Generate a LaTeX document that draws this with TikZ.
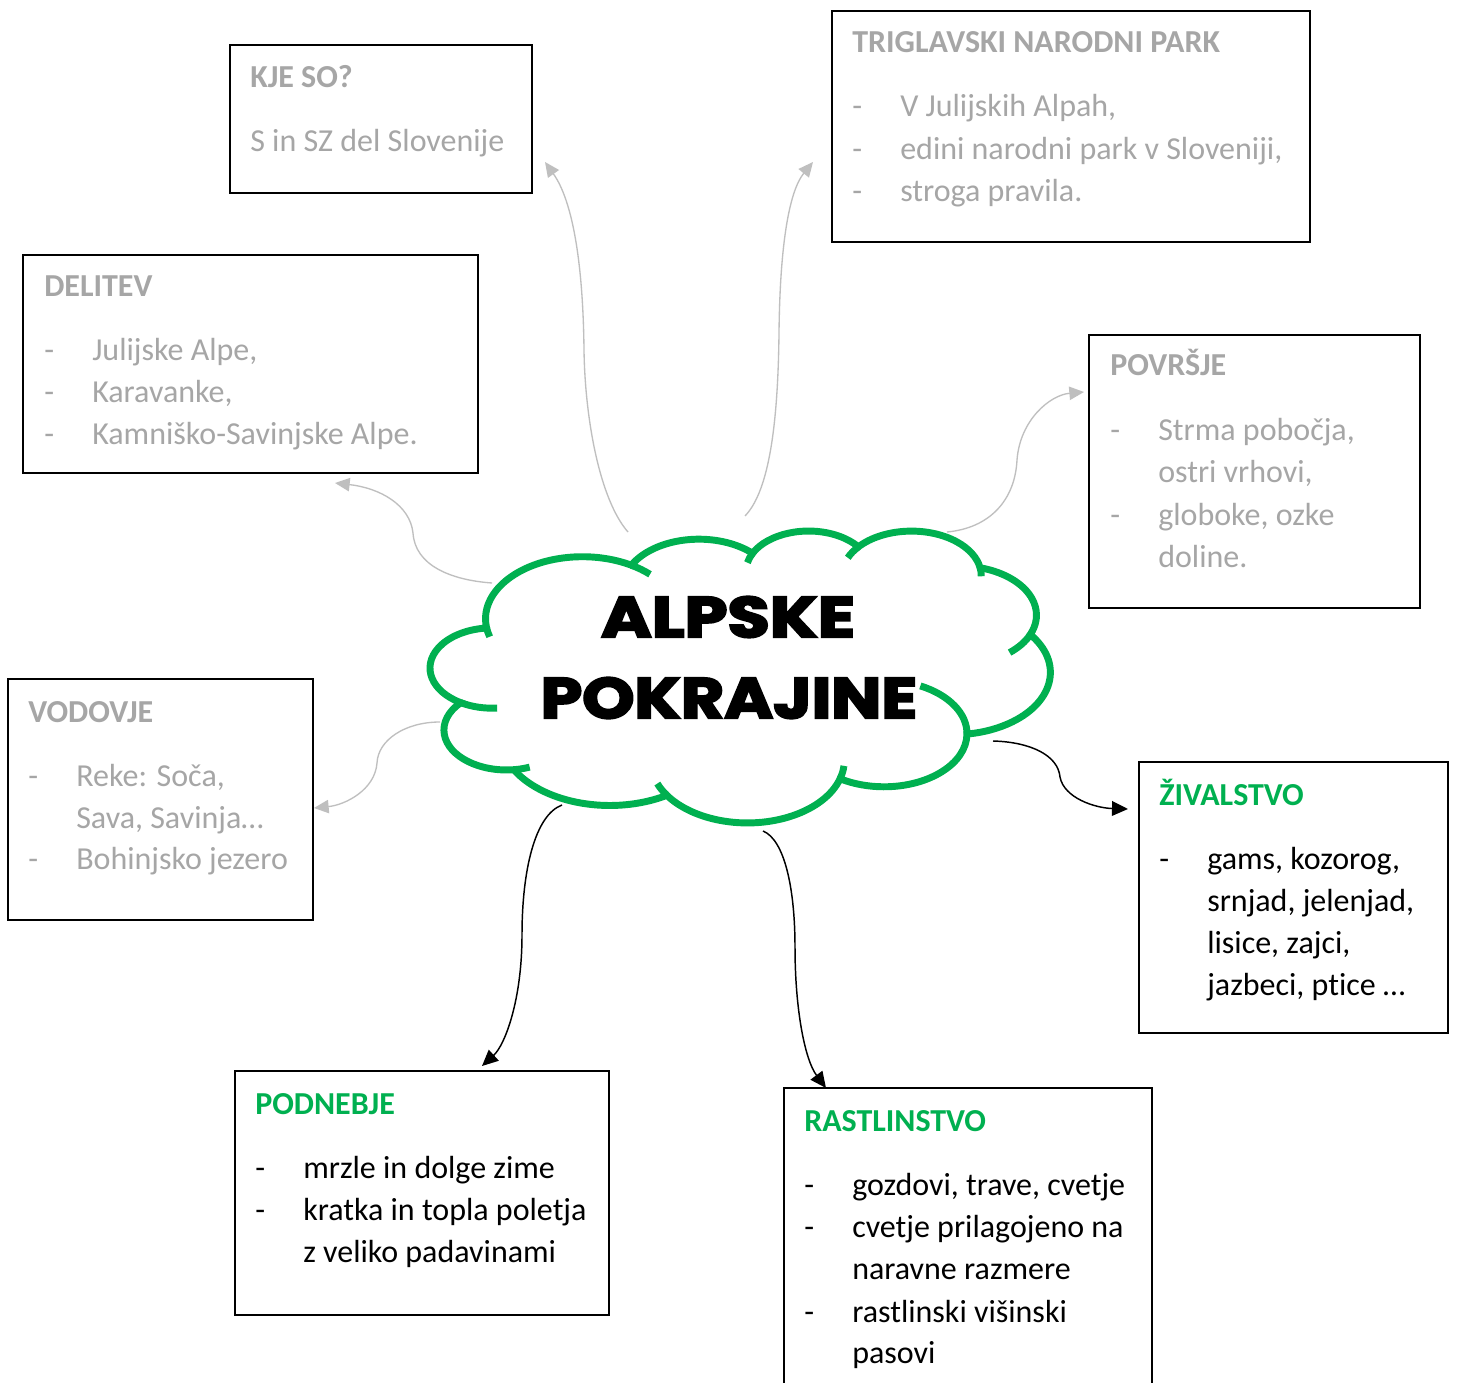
\documentclass[tikz,border=0pt]{standalone}
\usepackage{fontspec}
\setmainfont{Carlito}[Ligatures={NoCommon}]
\newfontfamily\titlefont{Poppins}[BoldFeatures={FakeBold=3.5}]
\usetikzlibrary{arrows.meta}
\definecolor{txtgray}{RGB}{166,166,166}
\definecolor{arrgray}{RGB}{191,191,191}
\definecolor{cgreen}{RGB}{0,176,80}
\begin{document}
\begin{tikzpicture}[x=0.75pt,y=-0.75pt,
  box/.style={draw=black,line width=1.4pt},
  tx/.style={anchor=base west,inner sep=0pt,yshift=-1.5pt,font=\fontsize{24}{30}\selectfont},
  gtx/.style={tx,text=txtgray},
  ghead/.style={tx,text=txtgray,font=\fontsize{24}{30}\selectfont\bfseries},
  greenhead/.style={tx,text=cgreen,font=\fontsize{24}{30}\selectfont\bfseries},
  garrow/.style={draw=arrgray,line width=1pt,-{Triangle[length=11pt,width=10pt]}},
  barrow/.style={draw=black,line width=1.1pt,-{Triangle[length=12pt,width=11pt]}},
  titletx/.style={inner sep=0pt,font=\titlefont\bfseries\fontsize{43}{43}\selectfont}]
\clip (0,0) rectangle (1457,1383);
\fill[white] (0,0) rectangle (1457,1383);

% ---------- boxes ----------
\draw[box] (230,45) rectangle (532,193);
\draw[box] (832,11) rectangle (1310,242);
\draw[box] (23,255) rectangle (478,473);
\draw[box] (1089,335) rectangle (1420,608);
\draw[box] (8,679) rectangle (313,920);
\draw[box] (1139,762) rectangle (1448,1033);
\draw[box] (235,1071) rectangle (609,1315);
\draw[box] (784,1088) rectangle (1152,1400);

% KJE SO?
\node[ghead] (kjeh) at (250,86) {KJE SO?};
\node[gtx] (kje1) at (250,150) {S in SZ del Slovenije};
% TRIGLAVSKI
\node[ghead] (trih) at (852,51) {TRIGLAVSKI NARODNI PARK};
\node[gtx] (trid1) at (852,115) {-};
\node[gtx] (trid2) at (852,158) {-};
\node[gtx] (trid3) at (852,200) {-};
\node[gtx] (tri1) at (900,115) {V Julijskih Alpah,};
\node[gtx] (tri2) at (900,158) {edini narodni park v Sloveniji,};
\node[gtx] (tri3) at (900,200) {stroga pravila.};
% DELITEV
\node[ghead] (delh) at (44,295) {DELITEV};
\node[gtx] (deld1) at (44,359) {-};
\node[gtx] (deld2) at (44,401) {-};
\node[gtx] (deld3) at (44,443) {-};
\node[gtx] (del1) at (92,359) {Julijske Alpe,};
\node[gtx] (del2) at (92,401) {Karavanke,};
\node[gtx] (del3) at (92,443) {Kamniško-Savinjske Alpe.};
% POVRSJE
\node[ghead] (povh) at (1110,374) {POVRŠJE};
\node[gtx] (povd1) at (1110,439) {-};
\node[gtx] (povd2) at (1110,524) {-};
\node[gtx] (pov1) at (1158,439) {Strma pobočja,};
\node[gtx] (pov2) at (1158,481) {ostri vrhovi,};
\node[gtx] (pov3) at (1158,524) {globoke, ozke};
\node[gtx] (pov4) at (1158,566) {doline.};
% VODOVJE
\node[ghead] (vodh) at (28,720) {VODOVJE};
\node[gtx] (vodd1) at (28,784) {-};
\node[gtx] (vodd2) at (28,867) {-};
\node[gtx] (vod1) at (76,784) {Reke: Soča,};
\node[gtx] (vod2) at (76,826) {Sava, Savinja…};
\node[gtx] (vod3) at (76,867) {Bohinjsko jezero};
% ZIVALSTVO
\node[greenhead] (zivh) at (1159,803) {ŽIVALSTVO};
\node[tx] (zivd1) at (1159,867) {-};
\node[tx] (ziv1) at (1207,867) {gams, kozorog,};
\node[tx] (ziv2) at (1207,909) {srnjad, jelenjad,};
\node[tx] (ziv3) at (1207,951) {lisice, zajci,};
\node[tx] (ziv4) at (1207,993) {jazbeci, ptice …};
% PODNEBJE
\node[greenhead] (podh) at (255,1112) {PODNEBJE};
\node[tx] (podd1) at (255,1176) {-};
\node[tx] (podd2) at (255,1218) {-};
\node[tx] (pod1) at (303,1176) {mrzle in dolge zime};
\node[tx] (pod2) at (303,1218) {kratka in topla poletja};
\node[tx] (pod3) at (303,1260) {z veliko padavinami};
% RASTLINSTVO
\node[greenhead] (rash) at (804,1129) {RASTLINSTVO};
\node[tx] (rasd1) at (804,1193) {-};
\node[tx] (rasd2) at (804,1235) {-};
\node[tx] (rasd3) at (804,1320) {-};
\node[tx] (ras1) at (852,1193) {gozdovi, trave, cvetje};
\node[tx] (ras2) at (852,1235) {cvetje prilagojeno na};
\node[tx] (ras3) at (852,1277) {naravne razmere};
\node[tx] (ras4) at (852,1320) {rastlinski višinski};
\node[tx] (ras5) at (852,1361) {pasovi};

% ---------- connector end points ----------
\coordinate (s1) at (628,532);  \coordinate (e1) at (545,162);
\coordinate (s2) at (745,516);  \coordinate (e2) at (813,162);
\coordinate (s3) at (492,583);  \coordinate (e3) at (335,483);
\coordinate (s4) at (947,532);  \coordinate (e4) at (1084,392);
\coordinate (s5) at (440,722);  \coordinate (e5) at (314,808);
\coordinate (s6) at (993,741);  \coordinate (e6) at (1128,809);
\coordinate (s7) at (562,805);  \coordinate (e7) at (482,1066);
\coordinate (s8) at (763,831);  \coordinate (e8) at (826,1088);

\draw[garrow] (s1) .. controls (600,500) and (585,420) .. (584,350) .. controls (583,260) and (572,200) .. (e1);
\draw[garrow] (s2) .. controls (770,490) and (778,420) .. (779,333) .. controls (780,240) and (790,190) .. (e2);
\draw[garrow] (s3) .. controls (450,580) and (415,565) .. (413,533) .. controls (410,505) and (380,488) .. (e3);
\draw[garrow] (s4) .. controls (990,528) and (1015,500) .. (1017,460) .. controls (1020,420) and (1050,395) .. (e4);
\draw[garrow] (s5) .. controls (405,722) and (378,740) .. (377,763) .. controls (375,790) and (345,805) .. (e5);
\draw[barrow] (s6) .. controls (1030,742) and (1058,755) .. (1060,777) .. controls (1064,798) and (1095,808) .. (e6);
\draw[barrow] (s7) .. controls (535,815) and (522,870) .. (522,935) .. controls (522,1000) and (505,1045) .. (e7);
\draw[barrow] (s8) .. controls (785,840) and (795,890) .. (795,947) .. controls (795,1010) and (805,1060) .. (e8);

% ---------- cloud ----------
\begin{scope}[shift={(430.5,530.1)},x=0.01075pt,y=-0.005068pt,line width=5.2pt,draw=cgreen]
\draw[fill=white] (3900,14370)
  arc[start angle=172.25,end angle=300.36,x radius=6753,y radius=9190]
  arc[start angle=-152.02,end angle=-45.46,x radius=5333,y radius=7267]
  arc[start angle=-153.49,end angle=-37.32,x radius=4365,y radius=5945]
  arc[start angle=-139.72,end angle=-10.21,x radius=4857,y radius=6595]
  arc[start angle=-74.77,end angle=23.21,x radius=5333,y radius=7273]
  arc[start angle=-37.50,end angle=81.86,x radius=6775,y radius=9220]
  arc[start angle=0.46,end angle=121.97,x radius=5785,y radius=7867]
  arc[start angle=16.84,end angle=146.22,x radius=6752,y radius=9215]
  arc[start angle=58.98,end angle=150.18,x radius=7720,y radius=10543]
  arc[start angle=83.31,end angle=223.10,x radius=4360,y radius=5918]
  arc[start angle=120.36,end angle=264.11,x radius=4345,y radius=5945]
  -- cycle;
\end{scope}

\node[titletx] (title1) at (728,617) {\scalebox{1.2}[1]{ALPSKE}};
\node[titletx] (title2) at (729,698) {\scalebox{1.16}[1]{POKRAJINE}};

\begin{scope}[shift={(430.5,530.1)},x=0.01075pt,y=-0.005068pt,line width=5.2pt,draw=cgreen]
\draw (4647.3,26349.6) arc[start angle=85.54,end angle=120.36,x radius=4345,y radius=5945];
\draw (6914.5,35091.0) arc[start angle=68.23,end angle=83.31,x radius=4360,y radius=5918];
\draw (16482.0,39265.2) arc[start angle=146.22,end angle=158.47,x radius=6752,y radius=9215];
\draw (28823.0,34903.0) arc[start angle=4.74,end angle=16.84,x radius=6752,y radius=9215];
\draw (34152.5,23064.8) arc[start angle=-64.03,end angle=0.46,x radius=5785,y radius=7867];
\draw (41820.0,15460.6) arc[start angle=23.21,end angle=49.63,x radius=5333,y radius=7273];
\draw (38319.7,5576.6) arc[start angle=-10.21,end angle=0.82,x radius=4857,y radius=6595];
\draw (29092.5,4093.8) arc[start angle=-156.29,end angle=-139.72,x radius=4857,y radius=6595];
\draw (22096.3,4822.0) arc[start angle=-167.73,end angle=-153.49,x radius=4365,y radius=5945];
\draw (14004.6,5201.8) arc[start angle=-59.64,end angle=-45.74,x radius=6753,y radius=9190];
\draw (4126.8,15789.1) arc[start angle=163.19,end angle=172.25,x radius=6753,y radius=9190];
\end{scope}
\end{tikzpicture}
\end{document}
